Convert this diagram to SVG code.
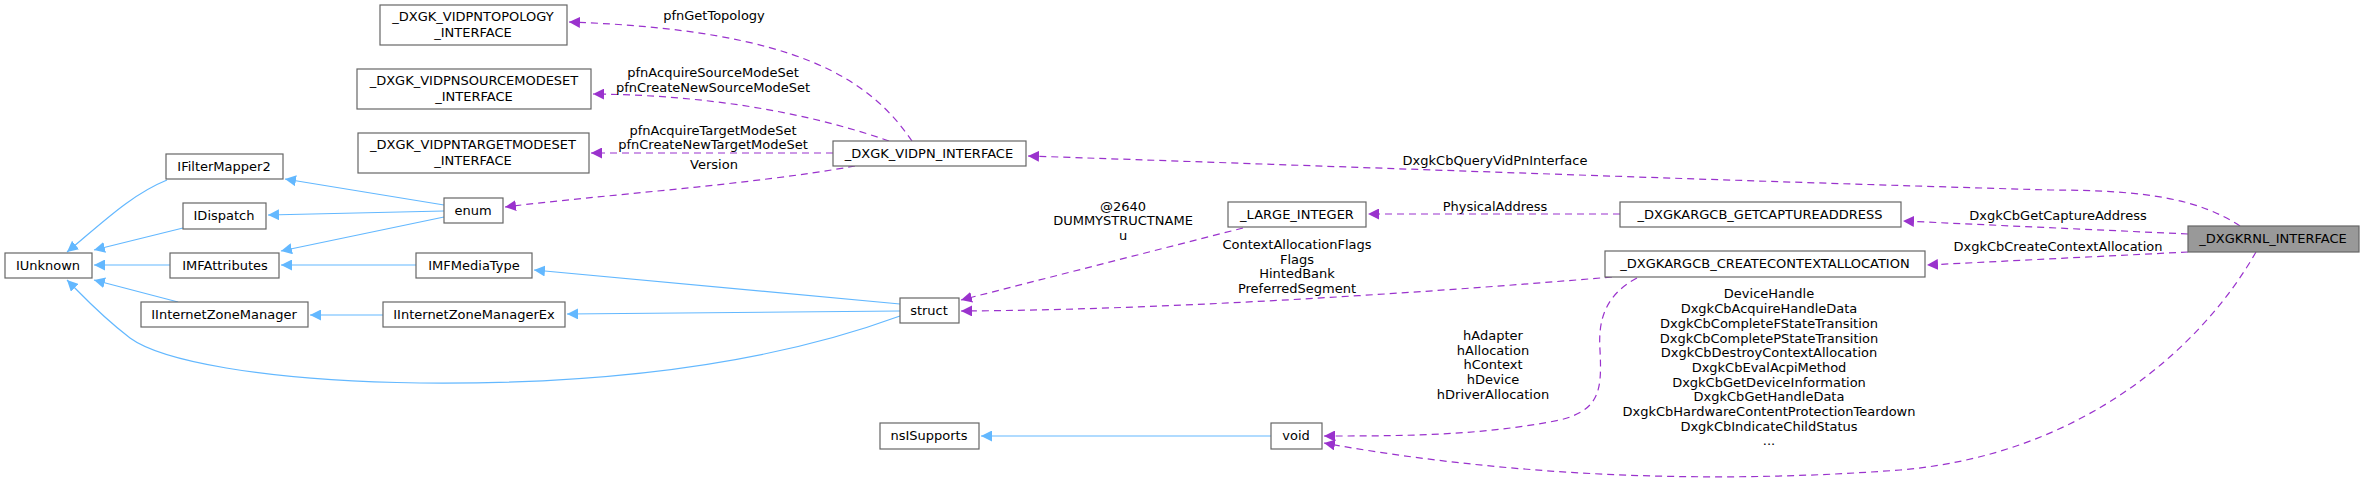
<svg xmlns="http://www.w3.org/2000/svg" width="2364" height="485" viewBox="0 0 2364 485">
<defs>
<style>
text{font-family:"DejaVu Sans",sans-serif;font-size:13px;fill:#000;text-anchor:middle}
.n rect{fill:#fff;stroke:#666;stroke-width:1.2}
.n.h rect{fill:#999}
.b{fill:none;stroke:#63b8ff;stroke-width:1.2;marker-end:url(#ab)}
.p{fill:none;stroke:#9a32cd;stroke-width:1.2;stroke-dasharray:7,5;marker-end:url(#ap)}
</style>
<marker id="ab" viewBox="0 0 10 10" refX="10" refY="5" markerWidth="11" markerHeight="11" markerUnits="userSpaceOnUse" orient="auto"><path d="M0,0L10,5L0,10z" fill="#63b8ff"/></marker>
<marker id="ap" viewBox="0 0 10 10" refX="10" refY="5" markerWidth="11" markerHeight="11" markerUnits="userSpaceOnUse" orient="auto"><path d="M0,0L10,5L0,10z" fill="#9a32cd"/></marker>
</defs>
<rect width="2364" height="485" fill="#fff"/>
<g id="edges">
<path class="b" d="M167,180 C130,195 100,225 67,252"/>
<path class="b" d="M183,228 L94,250"/>
<path class="b" d="M170,265 L94,265"/>
<path class="b" d="M178,302 L94,280"/>
<path class="b" d="M900,316 C780,360 620,385 420,383 C260,381 160,360 130,338 C100,315 85,298 67,280"/>
<path class="b" d="M444,205 L285,179"/>
<path class="b" d="M444,211 L268,215"/>
<path class="b" d="M444,217 L281,251"/>
<path class="b" d="M416,265 L281,265"/>
<path class="b" d="M383,315 L310,315"/>
<path class="b" d="M900,304 L534,270"/>
<path class="b" d="M900,311 L567,314"/>
<path class="b" d="M1271,436 L981,436"/>
<path class="p" d="M912,141 C870,80 800,30 569,22"/>
<path class="p" d="M889,141 C800,110 700,95 593,94"/>
<path class="p" d="M833,153 L591,153"/>
<path class="p" d="M855,166 C750,185 600,195 505,207"/>
<path class="p" d="M2240,226 C2200,200 2150,190 2050,190 C1700,180 1300,165 1028,156"/>
<path class="p" d="M1243,228 L961,300"/>
<path class="p" d="M1612,277 C1400,295 1150,310 961,311"/>
<path class="p" d="M1620,214 L1368,214"/>
<path class="p" d="M2188,234 L1903,221"/>
<path class="p" d="M2188,252 L1927,265"/>
<path class="p" d="M1637,278 C1605,295 1598,320 1600,350 C1602,390 1600,410 1560,420 C1480,436 1400,436 1324,436"/>
<path class="p" d="M2256,252 C2200,350 2080,455 1900,470 C1700,485 1500,475 1324,443"/>
</g>
<g id="labels">
<text x="714" y="20">pfnGetTopology</text>
<text x="713" y="77">pfnAcquireSourceModeSet</text>
<text x="713" y="92">pfnCreateNewSourceModeSet</text>
<text x="713" y="135">pfnAcquireTargetModeSet</text>
<text x="713" y="149">pfnCreateNewTargetModeSet</text>
<text x="714" y="169">Version</text>
<text x="1495" y="165">DxgkCbQueryVidPnInterface</text>
<text x="1123" y="211">@2640</text>
<text x="1123" y="225">DUMMYSTRUCTNAME</text>
<text x="1123" y="240">u</text>
<text x="1297" y="249">ContextAllocationFlags</text>
<text x="1297" y="264">Flags</text>
<text x="1297" y="278">HintedBank</text>
<text x="1297" y="293">PreferredSegment</text>
<text x="1495" y="211">PhysicalAddress</text>
<text x="2058" y="220">DxgkCbGetCaptureAddress</text>
<text x="2058" y="251">DxgkCbCreateContextAllocation</text>
<text x="1493" y="340">hAdapter</text>
<text x="1493" y="355">hAllocation</text>
<text x="1493" y="369">hContext</text>
<text x="1493" y="384">hDevice</text>
<text x="1493" y="399">hDriverAllocation</text>
<text x="1769" y="298">DeviceHandle</text>
<text x="1769" y="313">DxgkCbAcquireHandleData</text>
<text x="1769" y="328">DxgkCbCompleteFStateTransition</text>
<text x="1769" y="343">DxgkCbCompletePStateTransition</text>
<text x="1769" y="357">DxgkCbDestroyContextAllocation</text>
<text x="1769" y="372">DxgkCbEvalAcpiMethod</text>
<text x="1769" y="387">DxgkCbGetDeviceInformation</text>
<text x="1769" y="401">DxgkCbGetHandleData</text>
<text x="1769" y="416">DxgkCbHardwareContentProtectionTeardown</text>
<text x="1769" y="431">DxgkCbIndicateChildStatus</text>
<text x="1769" y="445">...</text>
</g>
<g id="n1" class="n"><rect x="380" y="5" width="187" height="40"/><text x="473" y="21">_DXGK_VIDPNTOPOLOGY</text><text x="473" y="37">_INTERFACE</text></g>
<g id="n2" class="n"><rect x="357" y="69" width="234" height="40"/><text x="474" y="85">_DXGK_VIDPNSOURCEMODESET</text><text x="474" y="101">_INTERFACE</text></g>
<g id="n3" class="n"><rect x="358" y="133" width="231" height="40"/><text x="473" y="149">_DXGK_VIDPNTARGETMODESET</text><text x="473" y="165">_INTERFACE</text></g>
<g id="n4" class="n"><rect x="166" y="154" width="117" height="25"/><text x="224" y="171">IFilterMapper2</text></g>
<g id="n5" class="n"><rect x="183" y="203" width="83" height="26"/><text x="224" y="220">IDispatch</text></g>
<g id="n6" class="n"><rect x="5" y="253" width="87" height="25"/><text x="48" y="270">IUnknown</text></g>
<g id="n7" class="n"><rect x="170" y="253" width="109" height="25"/><text x="225" y="270">IMFAttributes</text></g>
<g id="n8" class="n"><rect x="141" y="302" width="167" height="25"/><text x="224" y="319">IInternetZoneManager</text></g>
<g id="n9" class="n"><rect x="444" y="198" width="59" height="25"/><text x="473" y="215">enum</text></g>
<g id="n10" class="n"><rect x="416" y="253" width="116" height="25"/><text x="474" y="270">IMFMediaType</text></g>
<g id="n11" class="n"><rect x="383" y="302" width="182" height="25"/><text x="474" y="319">IInternetZoneManagerEx</text></g>
<g id="n12" class="n"><rect x="833" y="141" width="193" height="25"/><text x="929" y="158">_DXGK_VIDPN_INTERFACE</text></g>
<g id="n13" class="n"><rect x="900" y="298" width="59" height="25"/><text x="929" y="315">struct</text></g>
<g id="n14" class="n"><rect x="1228" y="202" width="138" height="25"/><text x="1297" y="219">_LARGE_INTEGER</text></g>
<g id="n15" class="n"><rect x="880" y="423" width="99" height="26"/><text x="929" y="440">nsISupports</text></g>
<g id="n16" class="n"><rect x="1271" y="423" width="51" height="26"/><text x="1296" y="440">void</text></g>
<g id="n17" class="n"><rect x="1620" y="202" width="281" height="25"/><text x="1760" y="219">_DXGKARGCB_GETCAPTUREADDRESS</text></g>
<g id="n18" class="n"><rect x="1605" y="251" width="320" height="26"/><text x="1765" y="268">_DXGKARGCB_CREATECONTEXTALLOCATION</text></g>
<g id="n19" class="n h"><rect x="2188" y="226" width="171" height="26"/><text x="2273" y="243">_DXGKRNL_INTERFACE</text></g>
</svg>
